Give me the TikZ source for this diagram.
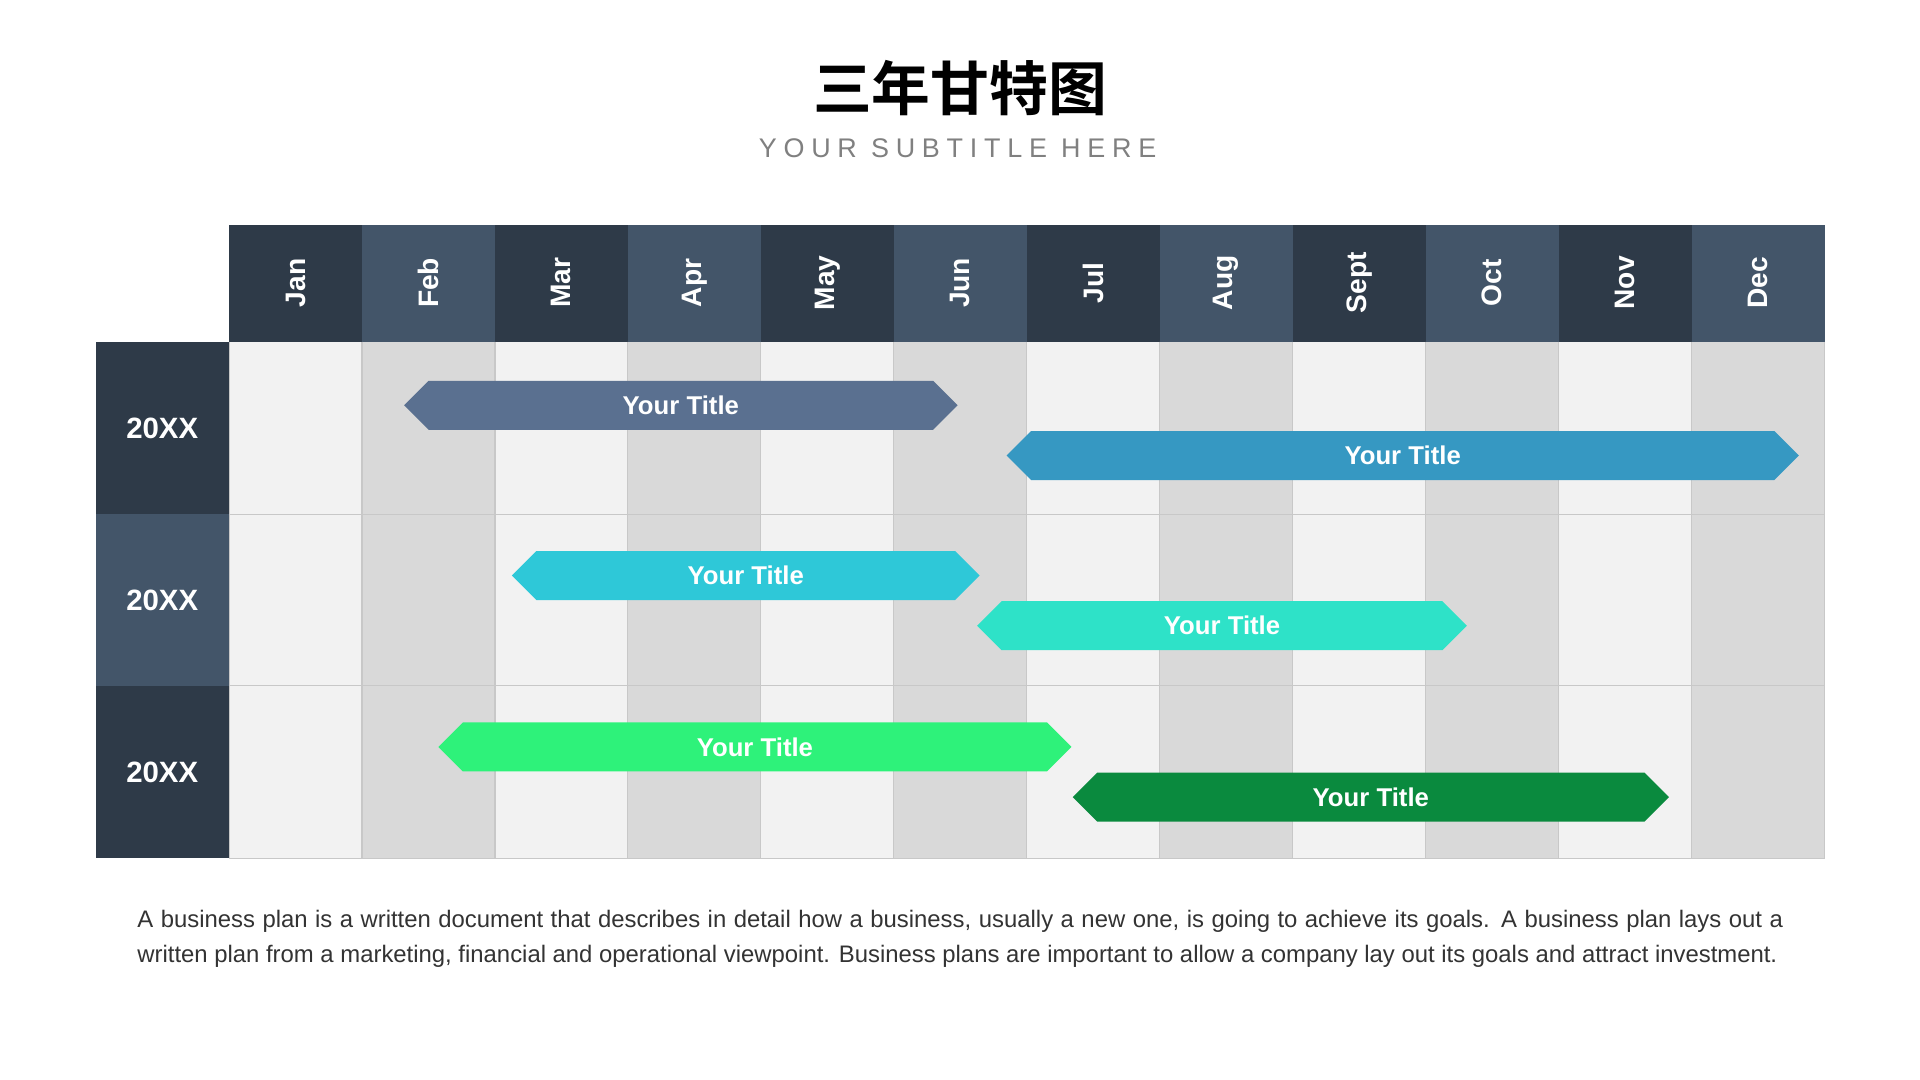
\documentclass[tikz,border=0pt]{standalone}
\usepackage{fontspec}
\setmainfont{Liberation Sans}
\newfontfamily\cjk{Noto Sans CJK SC}[BoldFont={* Bold}]
\definecolor{hdA}{HTML}{2E3A48}
\definecolor{hdB}{HTML}{435569}
\definecolor{cA}{HTML}{F2F2F2}
\definecolor{cB}{HTML}{D9D9D9}
\definecolor{gl}{HTML}{C8C8C8}
\definecolor{b1}{HTML}{5A7090}
\definecolor{b2}{HTML}{3698C2}
\definecolor{b3}{HTML}{2EC8D8}
\definecolor{b4}{HTML}{2EE2C8}
\definecolor{b5}{HTML}{2EF27A}
\definecolor{b6}{HTML}{0A8A3E}
\begin{document}
\begin{tikzpicture}[x=1pt,y=-1pt,
  month/.style={text=white,font=\bfseries\fontsize{23}{23}\selectfont,rotate=90},
  yr/.style={text=white,font=\bfseries\fontsize{24}{24}\selectfont},
  bartext/.style={text=white,font=\bfseries\fontsize{21}{21}\selectfont}]
\useasboundingbox[fill=white] (0,0) rectangle (1568,882);
\def\cw{108.583}
% cells
\foreach \i in {0,...,11}{
  \pgfmathsetmacro\xa{187+\i*\cw}
  \pgfmathsetmacro\xb{187+(\i+1)*\cw}
  \pgfmathtruncatemacro\pp{mod(\i,2)}
  \ifnum\pp=0 \def\cc{cA}\def\hc{hdA}\else\def\cc{cB}\def\hc{hdB}\fi
  \fill[\cc] (\xa,279) rectangle (\xb,701);
  \fill[\hc] (\xa,184) rectangle (\xb,279);
}
\foreach \i in {0,...,12}{\draw[gl,line width=1] ({187+\i*\cw},279) -- ({187+\i*\cw},701);}
\draw[gl,line width=1] (187,420) -- (1490,420) (187,560) -- (1490,560) (187,701) -- (1490,701);
\foreach \m [count=\i from 0] in {Jan,Feb,Mar,Apr,May,Jun,Jul,Aug,Sept,Oct,Nov,Dec}
  \node[month] (m\i) at ({187+(\i+0.5)*\cw},231) {\m};
% row labels
\fill[hdA] (78,279) rectangle (187,420);
\fill[hdB] (78,420) rectangle (187,560);
\fill[hdA] (78,560) rectangle (187,701);
\node[yr] (y1) at (132.5,350) {20XX};
\node[yr] (y2) at (132.5,490) {20XX};
\node[yr] (y3) at (132.5,631) {20XX};
% bars
\newcommand\gbar[5]{% x1,x2,ytop,color,name
  \fill[#4] (#1,#3+20) -- (#1+20,#3) -- (#2-20,#3) -- (#2,#3+20) -- (#2-20,#3+40) -- (#1+20,#3+40) -- cycle;
  \node[bartext] (#5) at ({(#1+#2)/2},#3+20) {Your Title};}
\gbar{330}{782}{311}{b1}{t1}
\gbar{822}{1469}{352}{b2}{t2}
\gbar{418}{800}{450}{b3}{t3}
\gbar{798}{1198}{491}{b4}{t4}
\gbar{358}{875}{590}{b5}{t5}
\gbar{876}{1363}{631}{b6}{t6}
% titles
\node[font=\cjk\bfseries\fontsize{48}{48}\selectfont] (title) at (784,72) {三年甘特图};
\node[text=black!50,font=\fontsize{22}{22}\selectfont\addfontfeature{LetterSpace=25}] (sub) at (782,121) {YOUR SUBTITLE HERE};
\node[anchor=north west,inner sep=0,text width=1344,align=justify,text=black!80,font=\fontsize{19.5}{28.5}\selectfont] (para) at (112,743)
{A business plan is a written document that describes in detail how a business, usually a new one, is going to achieve its goals. A business plan lays out a written plan from a marketing, financial and operational viewpoint. Business plans are important to allow a company lay out its goals and attract investment.};
\end{tikzpicture}
\end{document}
